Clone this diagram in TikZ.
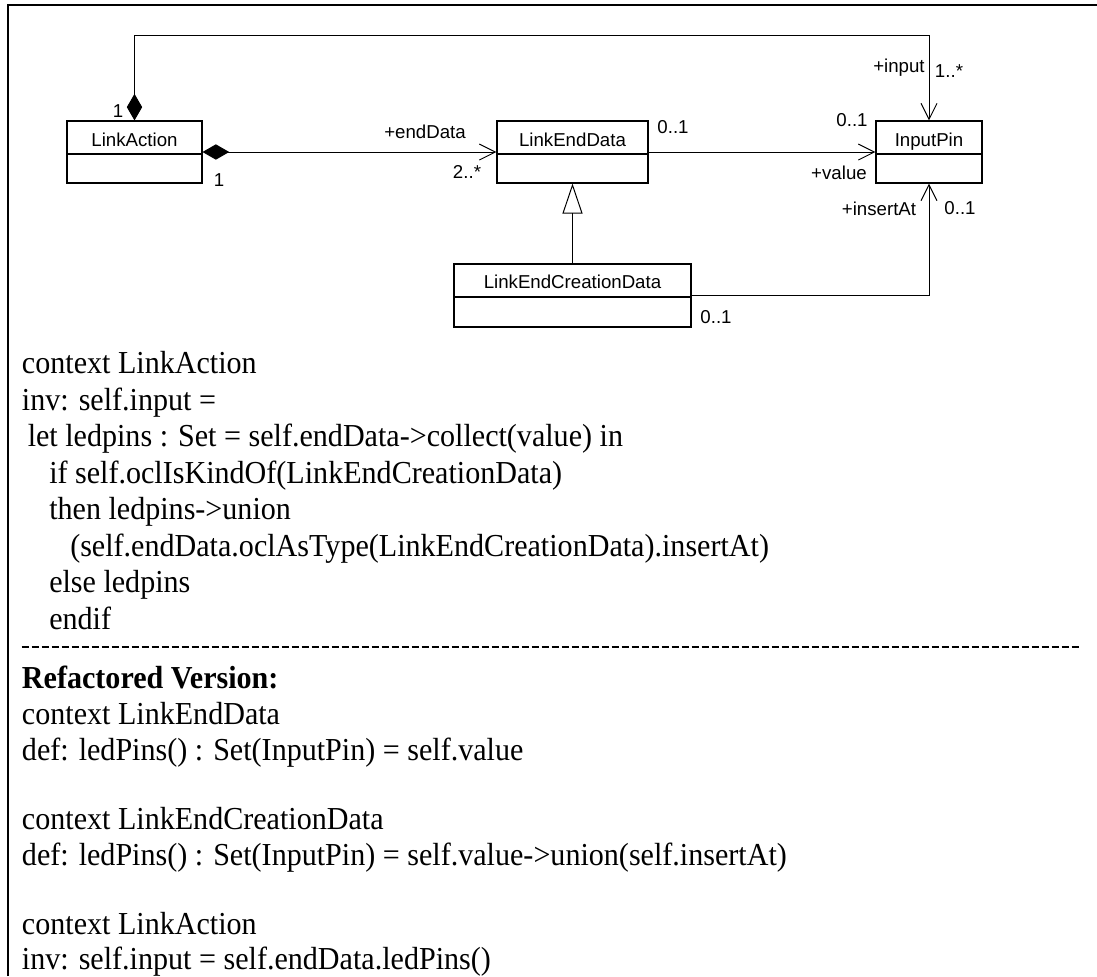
\documentclass[tikz,border=0pt]{standalone}
\usepackage{fontspec}
\setmainfont{Liberation Serif}[FakeStretch=0.94]
\newfontfamily\umlfont{Liberation Sans}
\usetikzlibrary{arrows.meta}

\begin{document}
\begin{tikzpicture}[x=0.75pt,y=-0.75pt,
  classbox/.style={draw, line width=0.8pt, inner sep=0pt},
  umltext/.style={font=\umlfont\fontsize{14pt}{16pt}\selectfont, anchor=base, inner sep=0pt},
  conn/.style={line width=0.75pt},
  compo/.style={{Diamond[length=20pt,width=11.5pt]}-{Straight Barb[length=12pt,width=12pt]}},
  navi/.style={-{Straight Barb[length=12pt,width=12pt]}},
  gener/.style={-{Triangle[open,length=22.5pt,width=15pt]}},
  body/.style={font=\fontsize{24pt}{27.4pt}\selectfont, anchor=base west, inner sep=0pt},
  bodybold/.style={font=\fontsize{24pt}{27.4pt}\selectfont\bfseries, anchor=base west, inner sep=0pt},
  sepline/.style={line width=1.9pt, dash pattern=on 5.25pt off 2.25pt}
]
\useasboundingbox (0,0) rectangle (1097,976);
\fill[white] (0,0) rectangle (1097,976);
% frame
\draw[line width=2pt, line join=miter] (8,976) -- (8,5) -- (1097,5);

% classes
\node[classbox, minimum width=101.25pt, minimum height=46.5pt] (la) at (134.5,152) {};
\node[classbox, minimum width=113.25pt, minimum height=46.5pt] (led) at (572.5,152) {};
\node[classbox, minimum width=79.5pt, minimum height=46.5pt] (ip) at (929,152) {};
\node[classbox, minimum width=177.75pt, minimum height=47.25pt] (lec) at (572.5,295.5) {};
\draw[line width=0.8pt] (la.west |- 0,154) -- (la.east |- 0,154);
\draw[line width=0.8pt] (led.west |- 0,154) -- (led.east |- 0,154);
\draw[line width=0.8pt] (ip.west |- 0,154) -- (ip.east |- 0,154);
\draw[line width=0.8pt] (lec.west |- 0,297) -- (lec.east |- 0,297);
\node[umltext] (laN) at (134.5,146) {LinkAction};
\node[umltext] (ledN) at (572.5,146) {LinkEndData};
\node[umltext] (ipN) at (929,146) {InputPin};
\node[umltext] (lecN) at (572.5,288) {LinkEndCreationData};

% connectors
\draw[conn, compo] (la.north) -- ++(0,-85) -| (ip.north);
\draw[conn, compo] (la.east) -- (led.west);
\draw[conn, navi] (led.east) -- (ip.west);
\draw[conn, gener] (lec.north) -- (led.south);
\draw[conn, navi] (lec.east) -| (ip.south);

% role names and multiplicities
\node[umltext] (m1) at (118,117) {1};
\node[umltext] (m2) at (219,186) {1};
\node[umltext] (r1) at (425,138) {+endData};
\node[umltext] (m3) at (467,178) {2..*};
\node[umltext] (m4) at (673,133) {0..1};
\node[umltext] (m5) at (852,126) {0..1};
\node[umltext] (r2) at (839,179) {+value};
\node[umltext] (r3) at (899,72) {+input};
\node[umltext] (m6) at (949,77) {1..*};
\node[umltext] (r4) at (879,215) {+insertAt};
\node[umltext] (m7) at (960,214) {0..1};
\node[umltext] (m8) at (716,323) {0..1};

% OCL text
\node[body] (t1) at (21.7,373) {context LinkAction};
\node[body] (t2) at (21.7,410) {inv: self.input =};
\node[body] (t3) at (27.5,446.5) {let ledpins : Set = self.endData->collect(value) in};
\node[body] (t4) at (49,483) {if self.oclIsKindOf(LinkEndCreationData)};
\node[body] (t5) at (49,519.5) {then ledpins->union};
\node[body] (t6) at (70,556) {(self.endData.oclAsType(LinkEndCreationData).insertAt)};
\node[body] (t7) at (49,592.5) {else ledpins};
\node[body] (t8) at (49,629) {endif};
\coordinate (sepA) at (21.7,647);
\coordinate (sepB) at (1081,647);
\draw[sepline] (sepA) -- (sepB);
\node[bodybold] (t9) at (21.7,688) {Refactored Version:};
\node[body] (t10) at (21.7,724) {context LinkEndData};
\node[body] (t11) at (21.7,760) {def: ledPins() : Set(InputPin) = self.value};
\node[body] (t12) at (21.7,829) {context LinkEndCreationData};
\node[body] (t13) at (21.7,865) {def: ledPins() : Set(InputPin) = self.value->union(self.insertAt)};
\node[body] (t14) at (21.7,934) {context LinkAction};
\node[body] (t15) at (21.7,969) {inv: self.input = self.endData.ledPins()};
\end{tikzpicture}
\end{document}
